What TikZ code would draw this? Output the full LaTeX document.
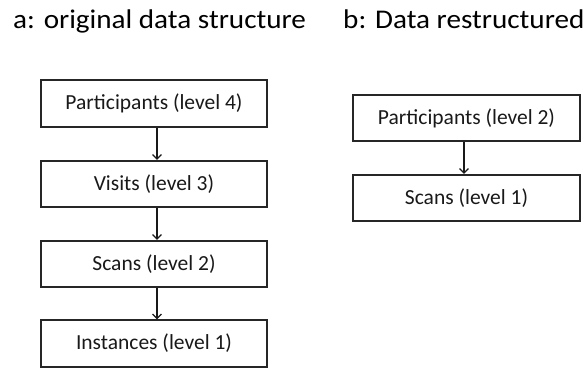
\documentclass[tikz,border=0pt]{standalone}
\usepackage{fontspec}
\setmainfont{Carlito}
\usetikzlibrary{arrows.meta}
\begin{document}
\begin{tikzpicture}[x=1pt,y=-1pt,
  box/.style={draw=black!85, line width=1.6pt, minimum width=226.5pt, minimum height=46.5pt,
    inner sep=0pt, font=\fontsize{21.5}{24}\selectfont, text=black!90},
  arr/.style={draw=black!90, line width=1.3pt, -{Straight Barb[length=4.5pt,width=9pt]}},
  title/.style={anchor=base west, inner sep=0pt, font=\fontsize{27}{30}\selectfont, text=black}]
\useasboundingbox (0,0) rectangle (588,368);
\fill[white] (0,0) rectangle (588,368);
\node[title] (ta) at (13,28) {\scalebox{1.08}[1]{a: original data structure}};
\node[title] (tb) at (343,28) {\scalebox{1.08}[1]{b: Data restructured}};
\node[box] (p4) at (154,103.5) {Participants (level 4)};
\node[box] (v3) at (154,184) {Visits (level 3)};
\node[box] (s2) at (154,264) {Scans (level 2)};
\node[box] (i1) at (154,343.5) {Instances (level 1)};
\node[box] (p2) at (466.5,118) {Participants (level 2)};
\node[box] (s1) at (466.5,198) {Scans (level 1)};
\draw[arr] ([xshift=3pt]p4.south) -- ([xshift=3pt]v3.north);
\draw[arr] ([xshift=3pt]v3.south) -- ([xshift=3pt]s2.north);
\draw[arr] ([xshift=3pt]s2.south) -- ([xshift=3pt]i1.north);
\draw[arr] ([xshift=-2.5pt]p2.south) -- ([xshift=-2.5pt]s1.north);
\end{tikzpicture}
\end{document}
